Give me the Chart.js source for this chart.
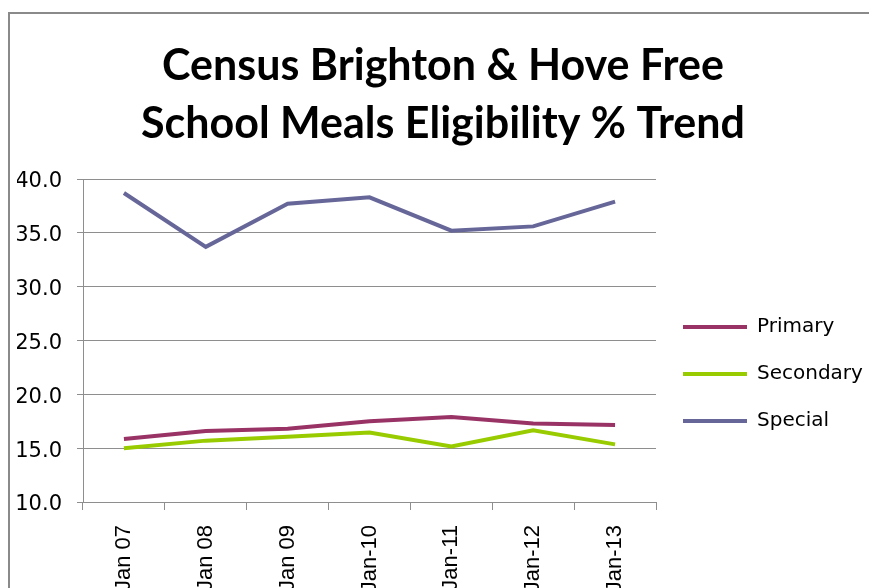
<!DOCTYPE html>
<html>
<head>
<meta charset="utf-8">
<script src="https://cdn.jsdelivr.net/npm/chart.js@4/dist/chart.umd.min.js"></script>
<style>
  html, body { margin: 0; padding: 0; background: #fff; overflow: hidden; }
  #frame { position: absolute; left: 8px; top: 12px; border-left: 2px solid #8a8a8a; border-top: 2px solid #8a8a8a; }
  #box { position: relative; width: 864px; height: 590px; }
</style>
</head>
<body>
<div id="frame"><div id="box"><canvas id="fsmChart"></canvas></div></div>
<script>
const years = ['Jan 07', 'Jan 08', 'Jan 09', 'Jan-10', 'Jan-11', 'Jan-12', 'Jan-13']
const primary = [15.85, 16.6, 16.8, 17.5, 17.9, 17.3, 17.15]
const secondary = [15.0, 15.7, 16.05, 16.45, 15.15, 16.65, 15.35]
const special = [38.7, 33.7, 37.7, 38.3, 35.2, 35.6, 37.9]
const yMin = 10
const yMax = 40
const yStep = 5

const gridGrey = '#8e8e8e'

// same colour for line, legend stroke and (hidden) points
const series = (label, data, color) => ({
  label,
  data,
  borderColor: color,
  backgroundColor: color,
  pointBorderColor: color,
  pointBackgroundColor: color,
  pointBorderWidth: 4
})

const ctx = document.getElementById('fsmChart').getContext('2d')

window.__fsmChart = new Chart(ctx, {
  type: 'line',
  data: {
    labels: years,
    datasets: [
      series('Primary', primary, '#993366'),
      series('Secondary', secondary, '#99cc00'),
      series('Special', special, '#666699')
    ]
  },
  options: {
    responsive: true,
    maintainAspectRatio: false,
    animation: false,
    elements: {
      line: { borderWidth: 4, tension: 0 },
      point: { radius: 0, hoverRadius: 0 }
    },
    layout: { padding: { left: 7, right: 5, top: 0, bottom: 0 } },
    scales: {
      x: {
        offset: true,
        grid: { offset: true, drawOnChartArea: false, drawTicks: true, tickLength: 8, color: gridGrey },
        border: { display: true, color: gridGrey },
        ticks: {
          minRotation: 90,
          maxRotation: 90,
          padding: 15,
          color: '#000',
          font: { family: 'Liberation Sans, Arial', size: 22 }
        },
        afterFit: (s) => { s.height = 102 }
      },
      y: {
        min: yMin,
        max: yMax,
        grid: { color: gridGrey, tickLength: 6 },
        border: { display: true, color: gridGrey },
        ticks: {
          stepSize: yStep,
          padding: 15,
          labelOffset: 3,
          color: '#000',
          font: { family: 'DejaVu Sans', size: 21 },
          callback: (v) => Number(v).toFixed(1)
        },
        afterFit: (s) => { s.width = 66 }
      }
    },
    plugins: {
      title: {
        display: true,
        text: ['Census Brighton & Hove Free', 'School Meals Eligibility % Trend'],
        color: '#000',
        font: { family: 'Lato', weight: 'bold', size: 43, lineHeight: 58 / 43 },
        padding: { top: 23, bottom: 26 }
      },
      legend: {
        position: 'right',
        fullSize: false,
        title: { display: true, text: ' ', font: { size: 10, lineHeight: 1 }, padding: { top: 57, bottom: 0 } },
        labels: {
          usePointStyle: true,
          pointStyle: 'line',
          pointStyleWidth: 64,
          padding: 27,
          color: '#000',
          font: { family: 'DejaVu Sans', size: 20 }
        }
      },
      tooltip: { enabled: false }
    }
  }
})
</script>
</body>
</html>
